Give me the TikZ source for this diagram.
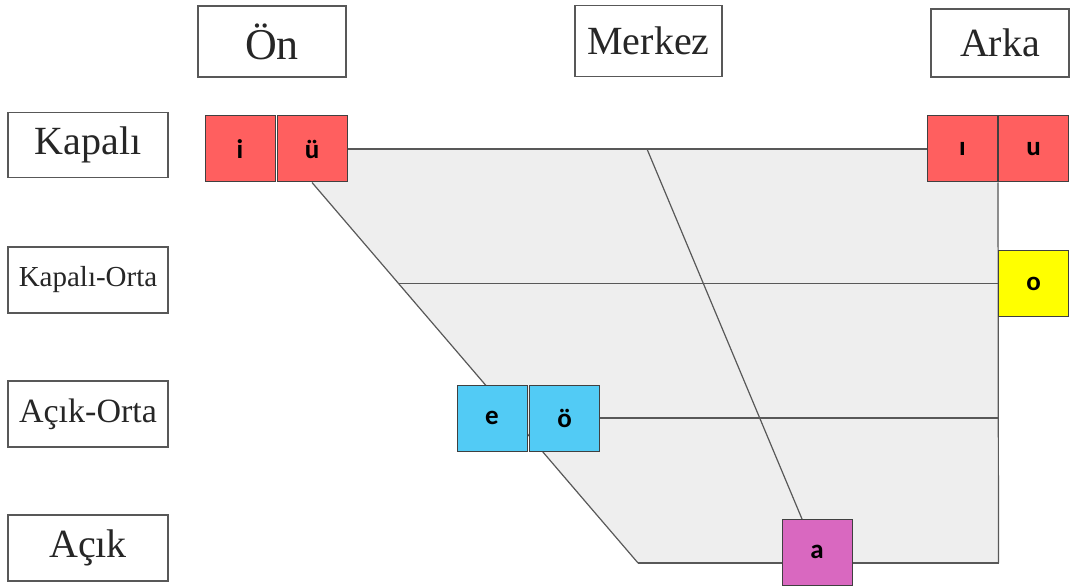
\documentclass[tikz,border=0pt]{standalone}
\usepackage{fontspec}
\setmainfont{Liberation Serif}
\newfontfamily\carlito{Carlito}
\usetikzlibrary{backgrounds}
\definecolor{kirmizi}{HTML}{FF5F5F}
\definecolor{mavi}{HTML}{52CBF5}
\definecolor{sari}{HTML}{FFFF00}
\definecolor{mor}{HTML}{D968C0}
\definecolor{zemin}{HTML}{EEEEEE}
\definecolor{cizgi}{HTML}{585858}

\begin{document}
\begin{tikzpicture}[x=1pt, y=-1pt,
                label box/.style = {draw=cizgi, line width=1.2pt, fill=white, inner sep=0pt, text=black!85},
                vowel/.style = {draw=black!75, line width=1pt, minimum width=70pt, minimum height=66pt, inner sep=0pt, font=\carlito\fontsize{27}{27}\selectfont\bfseries},
                grid line/.style = {draw=cizgi, line width=1.2pt}]
                \useasboundingbox (0,0) rectangle (1070,588);

                \node[label box, minimum width=160pt, minimum height=65pt, font=\fontsize{40}{40}\selectfont] at (88,145) (kapali) {Kapalı};
                \node[label box, minimum width=160pt, minimum height=66pt, font=\fontsize{29}{29}\selectfont] at (88,280) (kapaliorta) {Kapalı-Orta};
                \node[label box, minimum width=160pt, minimum height=66pt, font=\fontsize{34}{34}\selectfont] at (88,414) (acikorta) {Açık-Orta};
                \node[label box, minimum width=160pt, minimum height=66pt, font=\fontsize{40}{40}\selectfont] at (88,548) (acik) {Açık};

                \node[label box, minimum width=148pt, minimum height=71pt, font=\fontsize{44}{44}\selectfont] at (272,41.5) (on) {Ön};
                \node[label box, minimum width=147pt, minimum height=71pt, font=\fontsize{40}{40}\selectfont] at (648.5,41) (merkez) {Merkez};
                \node[label box, minimum width=138pt, minimum height=68pt, font=\fontsize{40}{40}\selectfont] at (1000,43) (arka) {Arka};

                \node[vowel, fill=kirmizi] at (240,149) (i) {i};
                \node[vowel, fill=kirmizi] at (312,149) (ue) {ü};
                \node[vowel, fill=kirmizi] at (962.5,149) (ii) {ı};
                \node[vowel, fill=kirmizi] at (1033.5,149) (u) {u};
                \node[vowel, fill=sari] at (1033.5,283.5) (o) {o};
                \node[vowel, fill=mavi] at (492,418) (e) {e};
                \node[vowel, fill=mavi] at (564.5,418) (oe) {ö};
                \node[vowel, fill=mor] at (817,552) (a) {a};

                \coordinate (bl) at (638,563);
                \coordinate (br) at (998.5,563);
                \coordinate (mid) at (399,283.5);
                \coordinate (ctop) at (647,149);
                \coordinate (cbot) at (802,519);

                \begin{pgfonlayer}{background}
                \fill[zemin] (ue.center) -- (ii.center -| br) -- (br) -- (bl) -- (ue.south) -- cycle;
                \draw[grid line] (ue.east) -- (ii.west);
                \draw[grid line] (u.south west) -- (br);
                \draw[grid line] (mid) -- (o.west);
                \draw[grid line] (oe.east) -- (oe.east -| br);
                \draw[grid line] (bl) -- (br);
                \draw[grid line] (ue.south) -- (bl);
                \draw[grid line] (ctop) -- (cbot);
                \end{pgfonlayer}
            \end{tikzpicture}
\end{document}
